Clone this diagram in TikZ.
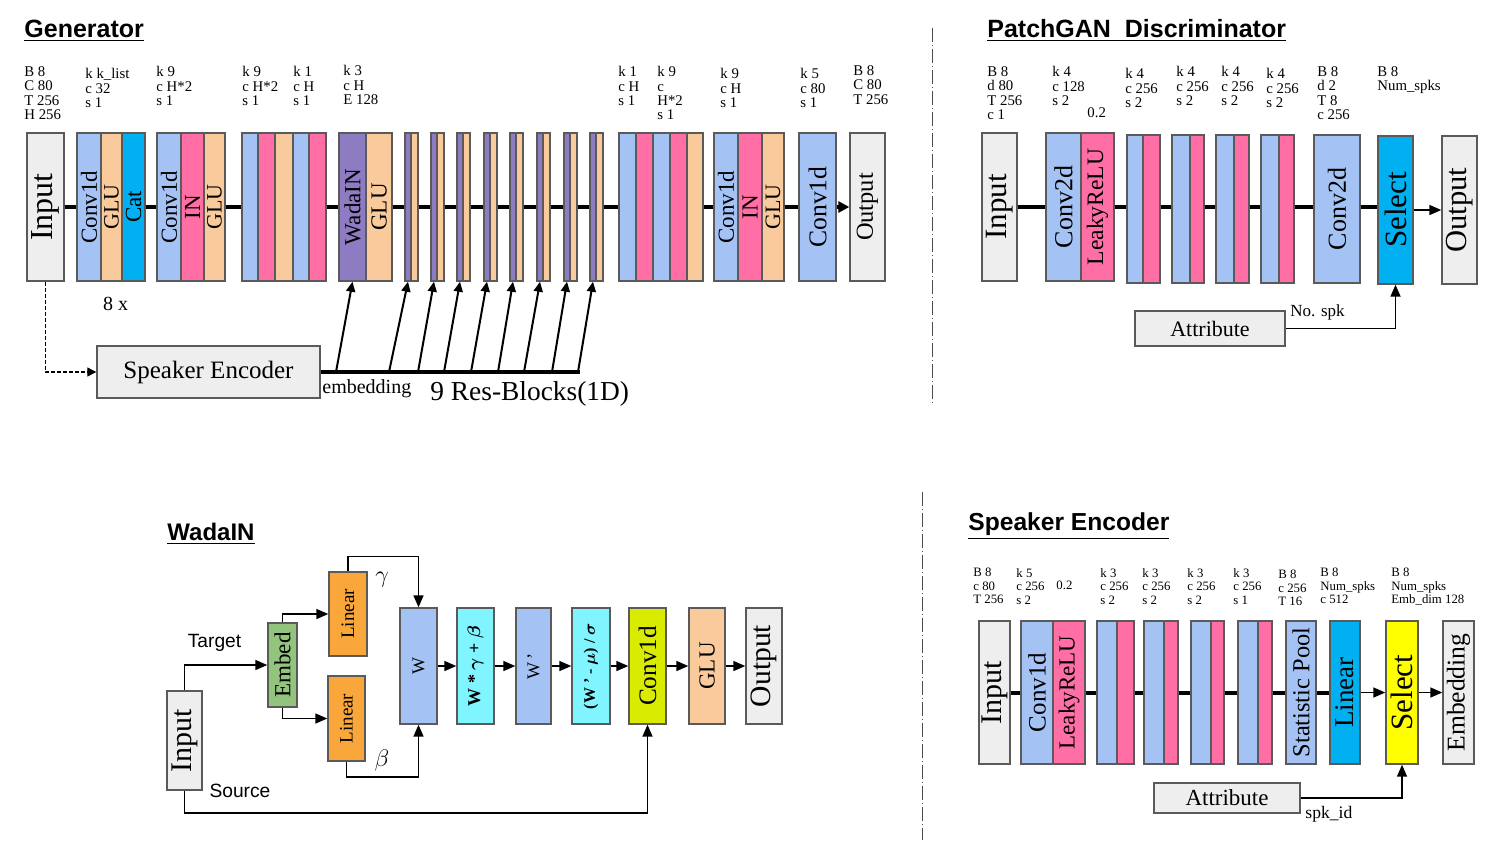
\documentclass[tikz,border=0pt]{standalone}
\usepackage{amsmath}
\usepackage{fontspec}
\setmainfont{Liberation Serif}
\newfontfamily\hsans{Liberation Sans}
\usetikzlibrary{arrows.meta}
\definecolor{cgray}{HTML}{EEEEEE}
\definecolor{cbord}{HTML}{5A5A5A}
\definecolor{cblue}{HTML}{A4C2F4}
\definecolor{cpeach}{HTML}{F9CB9C}
\definecolor{cpink}{HTML}{FF6FA5}
\definecolor{ccyan}{HTML}{00B0F0}
\definecolor{cpurp}{HTML}{8E7CC3}
\definecolor{cgreen}{HTML}{93C47D}
\definecolor{corange}{HTML}{F9A63B}
\definecolor{clcyan}{HTML}{80F4FF}
\definecolor{cyg}{HTML}{D9EB00}
\definecolor{cyel}{HTML}{FFFF00}
\newcommand{\fsz}[1]{\fontsize{#1}{#1}\selectfont}
\newcommand{\vtx}[1]{\rotatebox{90}{#1}}
\tikzset{
  blk/.style={draw=cbord, line width=0.7pt, inner sep=0pt, minimum height=74pt},
  sblk/.style={blk, minimum height=71.5pt},
  wblk/.style={blk, minimum height=58pt},
  lbl/.style={anchor=north west, inner sep=0pt, align=left, font=\fontsize{7.4}{7.2}\selectfont},
  slbl/.style={lbl, font=\fontsize{6.4}{6.7}\selectfont},
  ttl/.style={anchor=base west, inner sep=0pt, font=\hsans\bfseries\fsz{12.5}},
  link/.style={line width=2pt},
  arr/.style={->, line width=0.8pt},
  sep/.style={draw=black!70, line width=0.5pt, dash pattern=on 7pt off 1.5pt on 0.5pt off 1.5pt},
}
\begin{document}
\begin{tikzpicture}[x=0.5pt, y=-0.5pt, >={Triangle[length=6pt,width=5pt]}]
    \useasboundingbox (0,0) rectangle (1497,843);

    % Generator
    \node[ttl] (tgen) at (24,37) {\underline{Generator}};
    \node[lbl] (lg1) at (24,66) {B 8\\C 80\\T 256\\H 256};
    \node[lbl] (lg2) at (85,68) {k k\_list\\c 32\\s 1};
    \node[lbl] (lg3) at (156,66) {k 9\\c H*2\\s 1};
    \node[lbl] (lg4) at (242,66) {k 9\\c H*2\\s 1};
    \node[lbl] (lg5) at (293,66) {k 1\\c H\\s 1};
    \node[lbl] (lg6) at (343,65) {k 3\\c H\\E 128};
    \node[lbl] (lg7) at (618,66) {k 1\\c H\\s 1};
    \node[lbl] (lg8) at (657,66) {k 9\\c\\H*2\\s 1};
    \node[lbl] (lg9) at (720,68) {k 9\\c H\\s 1};
    \node[lbl] (lg10) at (800,68) {k 5\\c 80\\s 1};
    \node[lbl] (lg11) at (853,65) {B 8\\C 80\\T 256};

    \node[blk, fill=cgray, minimum width=18.5pt, font=\fsz{16}] (gin) at (45.5,207) {\vtx{Input}};
    \node[blk, fill=cblue, minimum width=12pt, font=\fsz{11.5}] (g1a) at (89,207) {\vtx{Conv1d}};
    \node[blk, fill=cpeach, minimum width=10.5pt, font=\fsz{11}] (g1b) at (111.5,207) {\vtx{GLU}};
    \node[blk, fill=ccyan, minimum width=11.5pt, font=\fsz{11.5}] (g1c) at (133.5,207) {\vtx{Cat}};
    \node[blk, fill=cblue, minimum width=12pt, font=\fsz{11.5}] (g2a) at (169,207) {\vtx{Conv1d}};
    \node[blk, fill=cpink, minimum width=11.5pt, font=\fsz{11.5}] (g2b) at (192.5,207) {\vtx{IN}};
    \node[blk, fill=cpeach, minimum width=10.5pt, font=\fsz{11}] (g2c) at (214.5,207) {\vtx{GLU}};
    \node[blk, fill=cblue, minimum width=8pt] (g3a) at (250,207) {};
    \node[blk, fill=cpink, minimum width=8.5pt] (g3b) at (266.5,207) {};
    \node[blk, fill=cpeach, minimum width=9pt] (g3c) at (284,207) {};
    \node[blk, fill=cblue, minimum width=8pt] (g3d) at (301,207) {};
    \node[blk, fill=cpink, minimum width=8.5pt] (g3e) at (317.5,207) {};
    \node[blk, fill=cpurp, minimum width=13.5pt, font=\fsz{11.5}] (gw) at (352.5,207) {\vtx{WadaIN}};
    \node[blk, fill=cpeach, minimum width=13pt, font=\fsz{11.5}] (gwg) at (379,207) {\vtx{GLU}};
    % res blocks
    \foreach \i/\l in {1/405,2/431,3/457,4/484,5/510,6/537,7/564,8/590}{
        \node[blk, fill=cpurp, minimum width=3pt] (rp\i) at (\l+3,207) {};
        \node[blk, fill=cpeach, minimum width=3.5pt] (rq\i) at (\l+9.5,207) {};
    }
    \node[blk, fill=cblue, minimum width=8.5pt] (g5a) at (627.5,207) {};
    \node[blk, fill=cpink, minimum width=8.5pt] (g5b) at (644.5,207) {};
    \node[blk, fill=cblue, minimum width=8.5pt] (g5c) at (661.5,207) {};
    \node[blk, fill=cpink, minimum width=8.5pt] (g5d) at (678.5,207) {};
    \node[blk, fill=cpeach, minimum width=8pt] (g5e) at (695,207) {};
    \node[blk, fill=cblue, minimum width=12pt, font=\fsz{11.5}] (g6a) at (726,207) {\vtx{Conv1d}};
    \node[blk, fill=cpink, minimum width=12pt, font=\fsz{11.5}] (g6b) at (750,207) {\vtx{IN}};
    \node[blk, fill=cpeach, minimum width=11pt, font=\fsz{11}] (g6c) at (773,207) {\vtx{GLU}};
    \node[blk, fill=cblue, minimum width=18.5pt, font=\fsz{12.8}] (gcv) at (817.5,207) {\vtx{Conv1d}};
    \node[blk, fill=cgray, minimum width=17.5pt, font=\fsz{12.2}] (gout) at (867.5,207) {\vtx{Output}};

    \draw[link] (gin) -- (g1a);
    \draw[link] (g1c) -- (g2a);
    \draw[link] (g2c) -- (g3a);
    \draw[link] (g3e) -- (gw);
    \draw[link] (gwg) -- (rp1);
    \foreach \i [evaluate=\i as \j using int(\i+1)] in {1,...,7}
        \draw[link] (rq\i) -- (rp\j);
    \draw[link] (rq8) -- (g5a);
    \draw[link] (g5e) -- (g6a);
    \draw[link] (g6c) -- (gcv);
    \draw[link, -{Triangle[length=5.5pt,width=5.5pt]}] (gcv) -- (gout);

    \node[font=\fsz{10}] (g8x) at (115.5,304) {8 x};
    \node[draw=cbord, line width=0.7pt, fill=cgray, minimum width=111.5pt, minimum height=26pt,
          inner sep=0pt, font=\fsz{12.5}] (gse) at (208.5,372) {Speaker Encoder};
    \draw[line width=0.6pt, dash pattern=on 2pt off 1pt, -{Triangle[length=4.5pt,width=4.5pt]}]
        (gin.south) |- (gse.west);

    % embedding to res blocks
    \coordinate (embend) at (580,372);
    \draw[line width=1.8pt] (gse.east) -- (embend);
    \coordinate (e0) at (336,372);
    \draw[->, line width=1pt, >={Triangle[length=5pt,width=4.5pt]}] (e0) -- (gw.south);
    \foreach \i/\b in {1/389,2/418,3/444,4/471,5/498,6/524,7/552,8/578}{
        \coordinate (e\i) at (\b,372);
        \draw[->, line width=1pt, >={Triangle[length=5pt,width=4.5pt]}] (e\i) -- (rp\i.south);
    }
    \node[anchor=north west, inner sep=0pt, font=\fsz{10}] (gembl) at (322,379) {embedding};
    \node[anchor=north west, inner sep=0pt, font=\fsz{13.7}] (gres) at (430,381) {9 Res-Blocks(1D)};

    % separators
    \draw[sep] (932,28) -- (932,405);
    \draw[sep] (922,492) -- (922,840);

    % PatchGAN Discriminator
    \node[ttl] (tdis) at (987,37) {\underline{PatchGAN\ \ Discriminator}};
    \node[lbl] (ld1) at (987,66) {B 8\\d 80\\T 256\\c 1};
    \node[lbl] (ld2) at (1052,66) {k 4\\c 128\\s 2};
    \node[lbl] (ld2b) at (1087,107) {0.2};
    \node[lbl] (ld3) at (1125,68) {k 4\\c 256\\s 2};
    \node[lbl] (ld4) at (1176,66) {k 4\\c 256\\s 2};
    \node[lbl] (ld5) at (1221,66) {k 4\\c 256\\s 2};
    \node[lbl] (ld6) at (1266,68) {k 4\\c 256\\s 2};
    \node[lbl] (ld7) at (1317,66) {B 8\\d 2\\T 8\\c 256};
    \node[lbl] (ld8) at (1377,66) {B 8\\Num\_spks};

    \node[blk, fill=cgray, minimum width=17.5pt, font=\fsz{15.5}] (din) at (999.5,207) {\vtx{Input}};
    \node[blk, fill=cblue, minimum width=17.5pt, font=\fsz{13}] (dc1) at (1063.5,207) {\vtx{Conv2d}};
    \node[blk, fill=cpink, minimum width=16.5pt, font=\fsz{11.8}] (dl1) at (1097.5,207) {\vtx{LeakyReLU}};
    \foreach \i/\bc/\bw/\pc/\pw in {1/1135/8pt/1151.5/8.5pt, 2/1181/9pt/1197/7pt,
                                   3/1225/9pt/1241.5/7.5pt, 4/1270/9pt/1286.5/7.5pt}{
        \node[blk, fill=cblue, minimum width=\bw] (db\i) at (\bc,209) {};
        \node[blk, fill=cpink, minimum width=\pw] (dp\i) at (\pc,209) {};
    }
    \node[blk, fill=cblue, minimum width=23pt, font=\fsz{13}] (dc2) at (1337,209) {\vtx{Conv2d}};
    \node[blk, fill=ccyan, minimum width=17.5pt, font=\fsz{15.5}] (dsel) at (1395.5,210) {\vtx{Select}};
    \node[blk, fill=cgray, minimum width=17.5pt, font=\fsz{15.3}] (dout) at (1459.5,210) {\vtx{Output}};

    \draw[link] (din) -- (dc1);
    \draw[link] (dl1.east |- 0,207) -- (db1.west |- 0,207);
    \foreach \i [evaluate=\i as \j using int(\i+1)] in {1,2,3}
        \draw[link] (dp\i.east |- 0,207) -- (db\j.west |- 0,207);
    \draw[link] (dp4.east |- 0,207) -- (dc2.west |- 0,207);
    \draw[link] (dc2.east |- 0,207) -- (dsel.west |- 0,207);
    \draw[arr] (dsel.east |- 0,210) -- (dout.west |- 0,210);

    \node[draw=cbord, line width=0.7pt, fill=cgray, minimum width=75pt, minimum height=17.5pt,
          inner sep=0pt, font=\fsz{11}] (dattr) at (1210,328.5) {Attribute};
    \draw[arr] (dattr.east) -| (dsel.south);
    \node[anchor=base west, inner sep=0pt, font=\fsz{8.5}] (dspk) at (1290,316) {No. spk};

    % WadaIN
    \node[ttl, font=\hsans\bfseries\fsz{12}] (twada) at (167,540) {\underline{WadaIN}};
    \node[blk, fill=cgray, minimum width=17.5pt, minimum height=49.5pt, font=\fsz{15}] (win) at (184.5,740.5) {\vtx{Input}};
    \node[blk, fill=cgreen, minimum width=14.5pt, minimum height=42pt, font=\fsz{11.5}] (wemb) at (282.5,665) {\vtx{Embed}};
    \node[blk, fill=corange, minimum width=19pt, minimum height=42pt, font=\fsz{9.5}] (wlt) at (348,614) {\vtx{Linear}};
    \node[blk, fill=corange, minimum width=18.5pt, minimum height=42.5pt, font=\fsz{9.5}] (wlb) at (346.5,718.5) {\vtx{Linear}};
    \node[wblk, fill=cblue, minimum width=18.5pt, font=\fsz{9}] (ww) at (418.5,666) {\vtx{W}};
    \node[wblk, fill=clcyan, minimum width=18.5pt, font=\fsz{9}] (wgb) at (475.5,666)
        {\vtx{\textbf{W * $\boldsymbol{\gamma}$ + $\boldsymbol{\beta}$}}};
    \node[wblk, fill=cblue, minimum width=17.5pt, font=\fsz{9}] (ww2) at (533.5,666) {\vtx{W\,’}};
    \node[wblk, fill=clcyan, minimum width=19pt, font=\fsz{8}] (wnorm) at (591,666)
        {\vtx{\textbf{(W ’ - $\boldsymbol{\mu}$) / $\boldsymbol{\sigma}$}}};
    \node[wblk, fill=cyg, minimum width=18.5pt, font=\fsz{12.6}] (wconv) at (647.5,666) {\vtx{Conv1d}};
    \node[wblk, fill=cpeach, minimum width=18pt, font=\fsz{11.5}] (wglu) at (707,666) {\vtx{GLU}};
    \node[wblk, fill=cgray, minimum width=18pt, font=\fsz{14.8}] (wout) at (764,666) {\vtx{Output}};

    \draw[arr] (win.north) |- (wemb.west);
    \draw[arr] (wemb.north) |- (wlt.west);
    \draw[arr] (wemb.south) |- (wlb.west);
    \draw[arr] (wlt.north) -- ++(0,-15) -| (ww.north);
    \draw[arr] (wlb.south) -- ++(0,15) -| (ww.south);
    \draw[arr] (win.south) -- ++(0,22) -| (wconv.south);
    \draw[arr] (ww) -- (wgb);
    \draw[arr] (wgb) -- (ww2);
    \draw[arr] (ww2) -- (wnorm);
    \draw[arr] (wnorm) -- (wconv);
    \draw[arr] (wconv) -- (wglu);
    \draw[arr] (wglu) -- (wout);
    \node[font=\hsans\fsz{9.6}] (wtgt) at (214.5,643) {Target};
    \node[font=\hsans\fsz{9.6}] (wsrc) at (240,791) {Source};
    \node[font=\fsz{12}] (wgam) at (382,580) {$\gamma$};
    \node[font=\fsz{12}] (wbet) at (382,760) {$\beta$};

    % Speaker Encoder
    \node[ttl, font=\hsans\bfseries\fsz{12.3}] (tse) at (968,530) {\underline{Speaker Encoder}};
    \node[slbl] (ls1) at (973,568) {B 8\\c 80\\T 256};
    \node[slbl] (ls2) at (1016,568) {k 5\\c 256\\s 2};
    \node[slbl] (ls2b) at (1056,581) {0.2};
    \node[slbl] (ls3) at (1100,568) {k 3\\c 256\\s 2};
    \node[slbl] (ls4) at (1142,568) {k 3\\c 256\\s 2};
    \node[slbl] (ls5) at (1187,568) {k 3\\c 256\\s 2};
    \node[slbl] (ls6) at (1233,568) {k 3\\c 256\\s 1};
    \node[slbl] (ls7) at (1278,570) {B 8\\c 256\\T 16};
    \node[slbl] (ls8) at (1320,568) {B 8\\Num\_spks\\c 512};
    \node[slbl] (ls9) at (1391,568) {B 8\\Num\_spks\\Emb\_dim 128};

    \node[sblk, fill=cgray, minimum width=15.5pt, font=\fsz{15}] (sin) at (994.5,692.5) {\vtx{Input}};
    \node[sblk, fill=cblue, minimum width=16pt, font=\fsz{12.5}] (sc1) at (1037,692.5) {\vtx{Conv1d}};
    \node[sblk, fill=cpink, minimum width=16pt, font=\fsz{11.5}] (sl1) at (1069,692.5) {\vtx{LeakyReLU}};
    \foreach \i/\bc/\pc/\pw in {1/1107/1125.5/8.5pt, 2/1154/1171/7pt, 3/1201/1217.5/6.5pt, 4/1248/1265/7pt}{
        \node[sblk, fill=cblue, minimum width=10pt] (sb\i) at (\bc,692.5) {};
        \node[sblk, fill=cpink, minimum width=\pw] (sp\i) at (\pc,692.5) {};
    }
    \node[sblk, fill=cblue, minimum width=15pt, font=\fsz{12.2}] (spool) at (1301,692.5) {\vtx{Statistic Pool}};
    \node[sblk, fill=ccyan, minimum width=15pt, font=\fsz{13.5}] (slin) at (1345,692.5) {\vtx{Linear}};
    \node[sblk, fill=cyel, minimum width=16pt, font=\fsz{15.5}] (ssel) at (1402,692.5) {\vtx{Select}};
    \node[sblk, fill=cgray, minimum width=15.5pt, font=\fsz{12.8}] (semb) at (1458.5,692.5) {\vtx{Embedding}};

    \draw[link] (sin) -- (sc1);
    \draw[link] (sl1) -- (sb1);
    \foreach \i [evaluate=\i as \j using int(\i+1)] in {1,2,3}
        \draw[link] (sp\i) -- (sb\j);
    \draw[link] (sp4) -- (spool);
    \draw[link] (spool) -- (slin);
    \draw[arr] (slin) -- (ssel);
    \draw[arr] (ssel) -- (semb);

    \node[draw=cbord, line width=0.7pt, fill=cgray, minimum width=73pt, minimum height=15pt,
          inner sep=0pt, font=\fsz{11.5}] (sattr) at (1227,798) {Attribute};
    \draw[arr] (sattr.east) -| (ssel.south);
    \node[anchor=base west, inner sep=0pt, font=\fsz{8.8}] (sspk) at (1305,818) {spk\_id};
\end{tikzpicture}
\end{document}
